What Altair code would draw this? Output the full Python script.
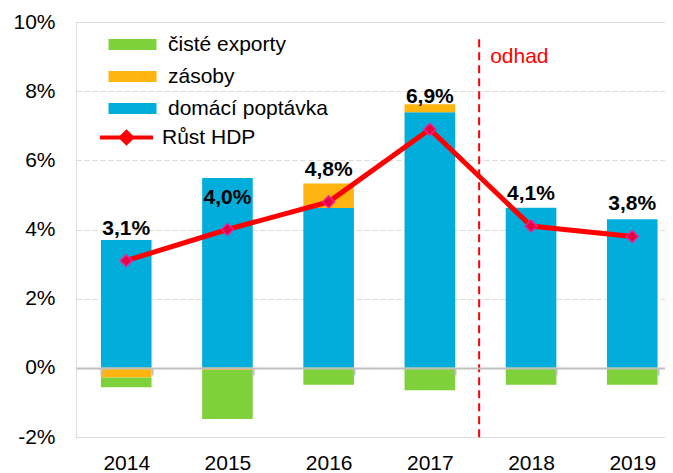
import altair as alt
import pandas as pd

# ---- data ----
years = ["2014", "2015", "2016", "2017", "2018", "2019"]
domestic_demand = [3.70, 5.49, 4.62, 7.39, 4.63, 4.30]
inventories = [-0.28, -0.06, 0.71, 0.23, 0.0, 0.0]
net_exports = [-0.28, -1.42, -0.49, -0.65, -0.49, -0.49]
gdp_growth = [3.1, 4.0, 4.8, 6.9, 4.1, 3.8]

comp_names = ["čisté exporty", "zásoby", "domácí poptávka"]
comp_colors = ["#7FD13B", "#FFB40F", "#00ADDB"]
gdp_name = "Růst HDP"
forecast_year = ["2017"]
forecast_text = ["odhad"]
y_ticks = [-2, 0, 2, 4, 6, 8, 10]

FONT = "Liberation Sans"

rows = []
for i, yr in enumerate(years):
    rows.append({"year": yr, "comp": "domácí poptávka", "value": domestic_demand[i], "ord": 0})
    rows.append({"year": yr, "comp": "zásoby", "value": inventories[i], "ord": 1})
    rows.append({"year": yr, "comp": "čisté exporty", "value": net_exports[i], "ord": 2})
bars_df = pd.DataFrame(rows)
gdp_df = pd.DataFrame({"year": years, "gdp": gdp_growth, "series": [gdp_name] * len(years)})
fc_df = pd.DataFrame({"year": forecast_year, "txt": forecast_text})

x_scale = alt.Scale(paddingInner=0.5, paddingOuter=0.16, align=0.77)
x_axis = alt.Axis(
    title=None, orient="bottom", offset=-69, labelAngle=0,
    domainColor="#BFBFBF", domainWidth=2,
    tickColor="#BFBFBF", tickWidth=2, tickSize=7, tickBand="extent",
    labelPadding=77, labelFontSize=21, labelFont=FONT, labelColor="black",
    grid=False, zindex=1,
)
y_scale = alt.Scale(domain=[-2, 10], nice=False, zero=False)
y_axis = alt.Axis(
    title=None, values=y_ticks, labelExpr="datum.value + '%'",
    domain=False, ticks=False, tickSize=0, labelPadding=21,
    labelFontSize=21, labelFont=FONT, labelColor="black",
    grid=True, gridColor="#D9D9D9", gridDash=[5, 3], gridWidth=1,
)

def xenc(**kw):
    return alt.X("year:N", scale=x_scale, axis=x_axis, sort=years, **kw)

bars = alt.Chart(bars_df).mark_bar().encode(
    x=xenc(),
    y=alt.Y("value:Q", scale=y_scale, axis=y_axis, stack="zero"),
    color=alt.Color(
        "comp:N",
        scale=alt.Scale(domain=comp_names, range=comp_colors),
        legend=alt.Legend(
            title=None, orient="none", legendX=46, legendY=12,
            symbolType="M-4.8,-1.1H4.8V1.1H-4.8Z", symbolSize=100,
            symbolStrokeWidth=0, symbolOpacity=1,
            labelFontSize=21, labelFont=FONT, labelColor="black",
            labelOffset=25, rowPadding=10, padding=0,
        ),
    ),
    order=alt.Order("ord:Q"),
)

line = alt.Chart(gdp_df).mark_line(strokeWidth=5).encode(
    x=xenc(),
    y=alt.Y("gdp:Q", scale=y_scale, axis=y_axis),
    stroke=alt.Stroke(
        "series:N",
        scale=alt.Scale(domain=[gdp_name], range=["#FF0000"]),
        legend=alt.Legend(
            title=None, orient="none", legendX=40, legendY=105,
            symbolType="M-5.3,0H5.3M-1.1,0L0,-1.1L1.1,0L0,1.1Z", symbolSize=100,
            symbolStrokeWidth=4, symbolFillColor="#E8003D",
            labelFontSize=21, labelFont=FONT, labelColor="black",
            labelOffset=25, padding=0,
        ),
    ),
)

points = alt.Chart(gdp_df).mark_point(
    shape="diamond", filled=True, size=140, fill="#E8003D",
    stroke="#F0209A", strokeWidth=1.5, opacity=1,
).encode(x=xenc(), y=alt.Y("gdp:Q", scale=y_scale, axis=y_axis))

labels = alt.Chart(gdp_df).transform_calculate(
    lab="replace(format(datum.gdp, '.1f'), '.', ',') + '%'"
).mark_text(
    fontSize=21, fontWeight="bold", font=FONT, color="black", dy=-32, baseline="middle"
).encode(x=xenc(), y=alt.Y("gdp:Q", scale=y_scale, axis=y_axis), text="lab:N")

rule = alt.Chart(fc_df).mark_rule(
    color="#FF0000", strokeWidth=2, strokeDash=[8, 5], xOffset=24
).encode(x=xenc(bandPosition=1), y=alt.datum(9.5), y2=alt.datum(-2.12))
odhad = alt.Chart(fc_df).mark_text(
    align="left", baseline="middle", dx=35, fontSize=21, font=FONT, color="#FF0000"
).encode(x=xenc(bandPosition=1), y=alt.datum(9.0), text="txt:N")

chart = alt.layer(bars, line, points, labels, rule, odhad).resolve_scale(
    color="independent", stroke="independent"
).properties(
    width=589, height=415,
    autosize=alt.AutoSizeParams(type="none"),
    padding={"left": 68, "top": 14, "right": 0, "bottom": 36},
).configure_view(stroke=None).configure(font=FONT)

chart.save("out.html", embed_options={"renderer": "svg", "actions": False})
